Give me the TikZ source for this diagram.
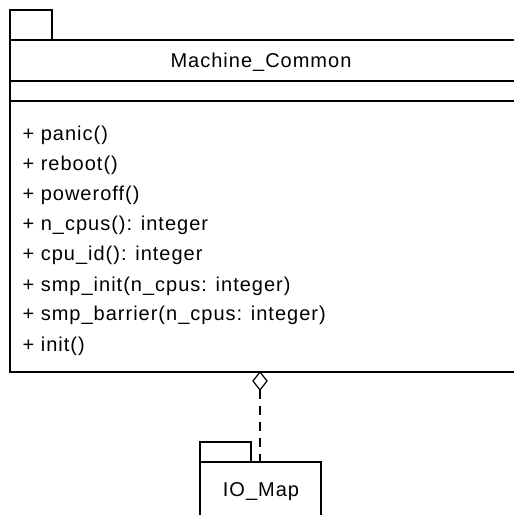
\documentclass[tikz,border=0pt]{standalone}
\usepackage{fontspec}
\setmainfont{Liberation Sans}[LetterSpace=5]
\usetikzlibrary{positioning}

\begin{document}
\begin{tikzpicture}[x=1pt, y=-1pt, line width=1.2pt,
    txt/.style={inner sep=0pt, font=\fontsize{20}{20}\selectfont},
    op/.style={txt, anchor=west}]
    \useasboundingbox (0,0) rectangle (514,515);
    \clip (0,0) rectangle (514,515);

    % Machine_Common package
    \draw (10,40) -- (10,10) -- (52,10) -- (52,40);
    \draw (10,40) rectangle (530,372);
    \draw (10,81) -- (530,81);
    \draw (10,101) -- (530,101);
    \node[txt] (common) at (261,62) {Machine\_Common};

    % Operations
    \node[op] (panic)      at (22,135) {+ panic()};
    \node[op] (reboot)     at (22,165) {+ reboot()};
    \node[op] (poweroff)   at (22,195) {+ poweroff()};
    \node[op] (ncpus)      at (22,225) {+ n\_cpus(): integer};
    \node[op] (cpuid)      at (22,255) {+ cpu\_id(): integer};
    \node[op] (smpinit)    at (22,286) {+ smp\_init(n\_cpus: integer)};
    \node[op] (smpbarrier) at (22,315) {+ smp\_barrier(n\_cpus: integer)};
    \node[op] (init)       at (22,346) {+ init()};

    % IO_Map package
    \draw (200,462) -- (200,442) -- (251,442) -- (251,462);
    \draw (200,530) -- (200,462) -- (321,462) -- (321,530);
    \node[txt] (iomap) at (261,492) {IO\_Map};

    % Aggregation
    \coordinate (aggtop) at (260,372);
    \coordinate (aggend) at (260,390);
    \coordinate (iotop) at (260,462);
    \draw[fill=white] (aggtop) -- (267,381) -- (aggend) -- (253,381) -- cycle;
    \draw[dash pattern=on 9pt off 7pt] (aggend) -- (iotop);
\end{tikzpicture}
\end{document}
